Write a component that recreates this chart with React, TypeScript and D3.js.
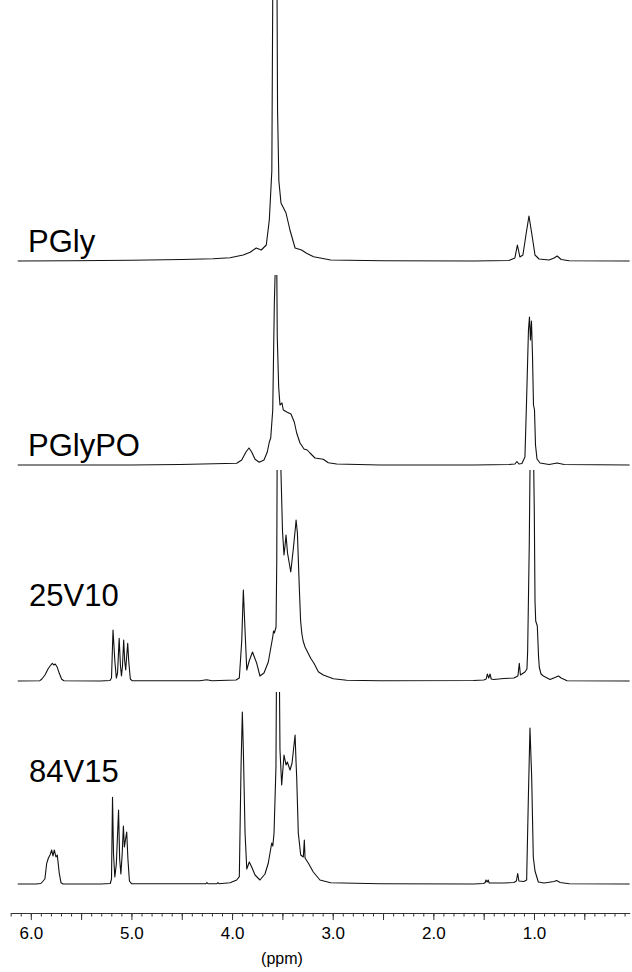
import React, { useEffect, useRef } from 'react';
import * as d3 from 'd3';

// spectra as [ppm, intensity] pairs, intensity
const pgly: [number, number][] = [
  [6.13, 0], [5.6, 0.3], [5.0, 0.8], [4.5, 1.5], [4.19, 2.3], [4.02, 3.3], [3.89, 6], [3.82, 8.7],
  [3.76, 13], [3.71, 11], [3.66, 16], [3.63, 41], [3.605, 90], [3.588, 420], [3.56, 420],
  [3.548, 150], [3.535, 80], [3.514, 58], [3.464, 48], [3.425, 31], [3.374, 13], [3.31, 11],
  [3.26, 7.7], [3.19, 4.3], [3.02, 1], [2.5, 0.2], [1.6, 0], [1.25, 0.5], [1.19, 3], [1.165, 16],
  [1.14, 4], [1.11, 6], [1.08, 26], [1.05, 45], [1.02, 26], [0.99, 6], [0.95, 2], [0.85, 1],
  [0.8, 3], [0.77, 5], [0.73, 1.5], [0.65, 0.3], [0.05, 0],
];

const pglypo: [number, number][] = [
  [6.13, 0], [5.0, 0], [4.52, 0.5], [3.954, 1.7], [3.904, 5], [3.862, 13], [3.832, 17], [3.805, 13],
  [3.772, 5.7], [3.73, 2.7], [3.683, 5], [3.65, 13], [3.63, 23], [3.616, 27], [3.596, 55],
  [3.58, 162], [3.57, 200], [3.556, 200], [3.551, 128], [3.537, 78], [3.524, 60], [3.504, 62],
  [3.491, 55], [3.457, 53], [3.415, 51], [3.382, 43], [3.358, 32], [3.325, 22], [3.285, 16],
  [3.253, 15], [3.226, 12], [3.176, 7], [3.094, 5.7], [3.044, 2.3], [2.96, 1], [2.53, 0],
  [1.6, 0], [1.25, 0.5], [1.19, 1], [1.17, 3.5], [1.15, 1], [1.12, 1.5], [1.09, 8], [1.075, 60],
  [1.055, 135], [1.045, 148], [1.035, 125], [1.025, 144], [1.015, 110], [1.005, 60], [0.995, 55],
  [0.985, 20], [0.97, 6], [0.94, 2], [0.85, 0.5], [0.77, 2], [0.7, 0.5], [0.05, 0],
];

const v25: [number, number][] = [
  [6.13, 0], [5.91, 0.3], [5.89, 2], [5.859, 6], [5.829, 12], [5.809, 15], [5.786, 17.7],
  [5.772, 16], [5.757, 17], [5.737, 13.7], [5.717, 7.7], [5.693, 1.7], [5.67, 0.3], [5.31, 0],
  [5.213, 0.5], [5.198, 3], [5.183, 51], [5.165, 20], [5.15, 3], [5.138, 8], [5.122, 42.7],
  [5.109, 15], [5.099, 5], [5.089, 15], [5.077, 41], [5.067, 20], [5.057, 11], [5.047, 25],
  [5.037, 37.7], [5.027, 20], [5.011, 2], [4.994, 0.3], [4.32, 0.2], [4.252, 1.2], [4.2, 0.3],
  [3.961, 1], [3.928, 3], [3.904, 40], [3.888, 91], [3.871, 50], [3.854, 11], [3.83, 20],
  [3.797, 29], [3.755, 17.7], [3.723, 5], [3.683, 8], [3.64, 19], [3.596, 44], [3.588, 50],
  [3.58, 48], [3.563, 54], [3.556, 120], [3.551, 250], [3.534, 300], [3.517, 220], [3.499, 150],
  [3.484, 126], [3.474, 135], [3.464, 146], [3.449, 128], [3.417, 109], [3.394, 130],
  [3.369, 155], [3.364, 161], [3.351, 148], [3.331, 91], [3.319, 60], [3.307, 47.7], [3.294, 40],
  [3.275, 34], [3.26, 31], [3.219, 22.7], [3.186, 17.7], [3.143, 9.3], [3.094, 6], [2.994, 2.3],
  [2.861, 0.7], [2.53, 0.3], [1.6, 0.5], [1.5, 1], [1.475, 2], [1.464, 7], [1.45, 3], [1.437, 7],
  [1.425, 2], [1.4, 1.5], [1.3, 2.5], [1.2, 3], [1.16, 5], [1.146, 17.7], [1.135, 6], [1.09, 9],
  [1.07, 12], [1.063, 30], [1.047, 136], [1.035, 260], [1.02, 260], [1.005, 230], [0.997, 170],
  [0.99, 80], [0.983, 60], [0.967, 55], [0.955, 25], [0.947, 13.5], [0.93, 7], [0.907, 5],
  [0.84, 1.5], [0.78, 4], [0.757, 5], [0.73, 3], [0.672, 0.3], [0.05, 0],
];

const v84: [number, number][] = [
  [6.13, 0], [5.95, 0], [5.9, 0.5], [5.86, 5], [5.842, 20.7], [5.825, 26], [5.809, 29],
  [5.792, 34], [5.78, 28], [5.766, 34], [5.75, 27], [5.737, 29], [5.717, 10.7], [5.7, 1.3],
  [5.68, 0], [5.3, 0], [5.21, 0.5], [5.198, 5], [5.188, 86.7], [5.178, 30], [5.165, 7],
  [5.15, 20], [5.128, 74], [5.117, 25], [5.105, 10], [5.092, 30], [5.08, 58], [5.07, 37],
  [5.058, 45], [5.047, 52], [5.035, 25], [5.02, 3], [5.0, 0.3], [4.5, 0.3], [4.26, 0.3],
  [4.25, 1.3], [4.24, 0.3], [4.15, 0.3], [4.14, 1.3], [4.13, 0.3], [4.02, 1.3], [3.954, 4],
  [3.928, 7.3], [3.911, 117], [3.898, 172], [3.888, 134], [3.871, 51], [3.854, 15], [3.829, 22],
  [3.805, 17], [3.772, 9], [3.723, 4], [3.673, 10], [3.64, 21], [3.606, 41], [3.595, 38],
  [3.583, 51], [3.564, 117], [3.556, 260], [3.534, 260], [3.524, 134], [3.507, 99], [3.484, 129],
  [3.464, 119], [3.451, 122], [3.424, 114], [3.404, 121], [3.374, 149], [3.364, 121],
  [3.358, 107], [3.342, 51], [3.318, 29], [3.292, 27], [3.282, 44], [3.275, 26], [3.243, 21],
  [3.193, 12], [3.127, 4], [3.021, 1.3], [2.53, 0.3], [1.6, 0], [1.5, 0.5], [1.485, 1.5],
  [1.477, 4], [1.466, 2], [1.455, 4], [1.445, 1], [1.3, 1], [1.2, 1.5], [1.175, 3], [1.162, 10.5],
  [1.15, 3], [1.1, 2.5], [1.073, 4], [1.056, 86], [1.04, 156], [1.023, 107], [1.007, 27],
  [0.99, 13], [0.957, 2], [0.9, 1], [0.8, 2.5], [0.775, 3.4], [0.74, 1.5], [0.65, 0.3], [0.05, 0],
];

const sampleNames = ['PGly', 'PGlyPO', '25V10', '84V15'];
const labelPpm = [6, 5, 4, 3, 2, 1];
const tickLabels = ['6.0', '5.0', '4.0', '3.0', '2.0', '1.0'];
const halfTicks = [6.0, 5.5, 5.0, 4.5, 4.0, 3.5, 3.0, 2.5, 2.0, 1.5, 1.0, 0.5];
const minorTicks = d3.range(62, 0, -1).map(v => v / 10);

const FONT = '"Liberation Sans", Arial, sans-serif';

export default function App() {
  const ref = useRef<SVGSVGElement>(null);

  useEffect(() => {
    const svg = d3.select(ref.current);
    svg.selectAll('*').remove();

    const x = d3.scaleLinear().domain([6.2, 0.05]).range([10.67, 629.6]);

    const panels = [
      { data: pgly, base: 261, top: 0, lx: 28, ly: 252 },
      { data: pglypo, base: 465, top: 275, lx: 28, ly: 456 },
      { data: v25, base: 681, top: 470, lx: 29, ly: 606 },
      { data: v84, base: 884, top: 692, lx: 29, ly: 782 },
    ];

    panels.forEach((p, i) => {
      const y = d3.scaleLinear().domain([0, 100]).range([p.base, p.base - 100]);

      svg.append('clipPath')
        .attr('id', `clip${i}`)
        .append('rect')
        .attr('x', 0)
        .attr('y', p.top)
        .attr('width', 632)
        .attr('height', p.base - p.top + 12);

      const line = d3.line<[number, number]>()
        .x(d => x(d[0]))
        .y(d => y(d[1]));

      svg.append('path')
        .datum(p.data)
        .attr('d', line)
        .attr('clip-path', `url(#clip${i})`)
        .attr('fill', 'none')
        .attr('stroke', '#111')
        .attr('stroke-width', 1.1)
        .attr('stroke-linejoin', 'round');

      svg.append('text')
        .attr('x', p.lx)
        .attr('y', p.ly)
        .attr('font-family', FONT)
        .attr('font-size', 31)
        .attr('fill', '#000')
        .text(sampleNames[i]);
    });

    // ppm axis
    const axisY = 913;
    const minor = d3.axisBottom(x)
      .tickValues(minorTicks)
      .tickSize(3.5)
      .tickSizeOuter(0)
      .tickFormat(() => '');
    const major = d3.axisBottom(x)
      .tickValues(halfTicks)
      .tickSize(7)
      .tickSizeOuter(0)
      .tickPadding(7)
      .tickFormat(d => {
        const k = labelPpm.indexOf(+d);
        return k >= 0 ? tickLabels[k] : '';
      });

    const gMinor = svg.append('g').attr('transform', `translate(0,${axisY})`).call(minor);
    const gMajor = svg.append('g').attr('transform', `translate(0,${axisY})`).call(major);
    [gMinor, gMajor].forEach(g => {
      g.selectAll('path, line').attr('stroke', '#333').attr('stroke-width', 1);
    });
    gMajor.selectAll('text')
      .attr('font-family', FONT)
      .attr('font-size', 17)
      .attr('fill', '#000');

    svg.append('text')
      .attr('x', 282)
      .attr('y', 964)
      .attr('text-anchor', 'middle')
      .attr('font-family', FONT)
      .attr('font-size', 16)
      .attr('fill', '#000')
      .text('(ppm)');
  }, []);

  return (
    <svg
      ref={ref}
      width={632}
      height={972}
      style={{ position: 'absolute', left: 0, top: 0, background: '#fff' }}
    />
  );
}
